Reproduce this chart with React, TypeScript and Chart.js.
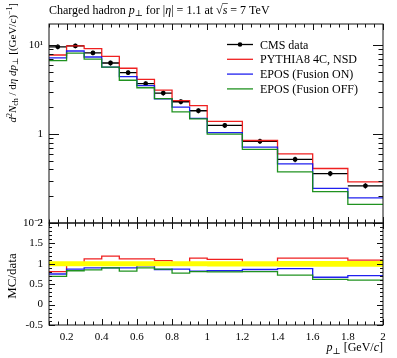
import React, { useEffect, useRef } from "react";
import { Chart, registerables } from "chart.js";
Chart.register(...registerables);

// ---------------- data ----------------
const binEdges = [0.1, 0.2, 0.3, 0.4, 0.5, 0.6, 0.7, 0.8, 0.9, 1.0, 1.2, 1.4, 1.6, 1.8, 2.0];
const cmsData = [9.57, 9.8, 8.18, 6.3, 4.91, 3.69, 2.89, 2.31, 1.83, 1.25, 0.83, 0.519, 0.36, 0.262];
const cmsRelErr = [0.06, 0.06, 0.06, 0.06, 0.06, 0.06, 0.06, 0.06, 0.06, 0.065, 0.065, 0.07, 0.07, 0.07];
const pythia = [7.75, 9.8, 9.16, 7.5, 5.5, 4.13, 3.12, 2.38, 2.09, 1.39, 0.847, 0.6, 0.41, 0.29];
const eposOn = [7.2, 8.6, 7.36, 5.67, 4.42, 3.51, 2.49, 2.01, 1.5, 1.04, 0.714, 0.462, 0.245, 0.192];
const eposOff = [6.7, 8.13, 6.95, 5.67, 4.03, 3.32, 2.51, 1.78, 1.48, 1.0, 0.672, 0.375, 0.225, 0.162];
const pythiaRatio = [0.81, 1.0, 1.12, 1.19, 1.12, 1.12, 1.08, 1.03, 1.14, 1.11, 1.02, 1.14, 1.14, 1.09];
const eposOnRatio = [0.75, 0.87, 0.9, 0.9, 0.9, 0.95, 0.86, 0.87, 0.82, 0.83, 0.86, 0.88, 0.67, 0.71];
const eposOffRatio = [0.69, 0.83, 0.85, 0.9, 0.82, 0.9, 0.87, 0.77, 0.81, 0.8, 0.81, 0.72, 0.62, 0.6];
const xTickValues = [0.2, 0.4, 0.6, 0.8, 1.0, 1.2, 1.4, 1.6, 1.8, 2.0];
const yMainTickValues = [0.1, 1, 10];
const yRatioTickValues = [-0.5, 0, 0.5, 1, 1.5, 2];
const legendLabels = ["CMS data", "PYTHIA8 4C, NSD", "EPOS (Fusion ON)", "EPOS (Fusion OFF)"];

// ---------------- styling ----------------
const FAMILY = "'Liberation Serif', 'DejaVu Serif', serif";
const RED = "rgba(238,20,20,0.95)";
const BLUE = "rgba(20,20,238,0.95)";
const GREEN = "rgba(20,140,20,0.95)";
const BLACK = "#000";

type Seg = [string, string?];

function drawRich(ctx: CanvasRenderingContext2D, segs: Seg[], x: number, y: number, size: number, align: "left" | "center" | "right") {
  const parts = segs.map(([t, s = ""]) => {
    const italic = s.includes("i");
    const small = s.includes("sub") || s.includes("sup");
    const fs = small ? size * 0.72 : size;
    const font = `${italic ? "italic " : ""}${fs}px ${FAMILY}`;
    ctx.font = font;
    const w = ctx.measureText(t).width;
    const dy = s.includes("sub") ? size * 0.22 : s.includes("sup") ? -size * 0.4 : 0;
    return { t, font, w, dy };
  });
  const total = parts.reduce((a, p) => a + p.w, 0);
  let cx = align === "left" ? x : align === "center" ? x - total / 2 : x - total;
  ctx.textAlign = "left";
  ctx.textBaseline = "alphabetic";
  const xs: number[] = [];
  for (const p of parts) {
    ctx.font = p.font;
    xs.push(cx);
    ctx.fillText(p.t, cx, y + p.dy);
    cx += p.w;
  }
  return { xs, parts };
}

function stepPoints(values: number[]) {
  const pts: { x: number; y: number }[] = [];
  values.forEach((v, i) => {
    pts.push({ x: binEdges[i], y: v });
    pts.push({ x: binEdges[i + 1], y: v });
  });
  return pts;
}

function dataBars(values: number[], rel: number[]) {
  const pts: { x: number; y: number | null }[] = [];
  values.forEach((v, i) => {
    const lo = binEdges[i];
    const hi = binEdges[i + 1];
    const c = (lo + hi) / 2;
    pts.push({ x: lo, y: v }, { x: hi, y: v }, { x: hi, y: null });
    pts.push({ x: c, y: v * (1 - rel[i]) }, { x: c, y: v * (1 + rel[i]) }, { x: c, y: null });
  });
  return pts;
}

function dataCenters(values: number[]) {
  return values.map((v, i) => ({ x: (binEdges[i] + binEdges[i + 1]) / 2, y: v }));
}

function xTickList() {
  const out: { v: number; major: boolean }[] = [];
  for (let i = 2; i <= 40; i++) out.push({ v: i * 0.05, major: i % 4 === 0 });
  return out;
}

function framePlugin(yTicks: { v: number; major: boolean }[], yMaj: number, yMin: number, extra?: (c: any) => void) {
  return {
    id: "frameTicks",
    afterDatasetsDraw(chart: any) {
      const { ctx, chartArea: a, scales } = chart;
      const xs = scales.x;
      const ys = scales.y;
      ctx.save();
      ctx.strokeStyle = "#111";
      ctx.lineWidth = 1;
      ctx.strokeRect(a.left, a.top, a.right - a.left, a.bottom - a.top);
      ctx.beginPath();
      for (const t of xTickList()) {
        const px = Math.round(xs.getPixelForValue(t.v)) + 0.5;
        const L = t.major ? 6 : 3.5;
        ctx.moveTo(px, a.top);
        ctx.lineTo(px, a.top + L);
        ctx.moveTo(px, a.bottom);
        ctx.lineTo(px, a.bottom - L);
      }
      for (const t of yTicks) {
        const py = Math.round(ys.getPixelForValue(t.v)) + 0.5;
        const L = t.major ? yMaj : yMin;
        ctx.moveTo(a.left, py);
        ctx.lineTo(a.left + L, py);
        ctx.moveTo(a.right, py);
        ctx.lineTo(a.right - L, py);
      }
      ctx.stroke();
      ctx.restore();
      if (extra) extra(chart);
    },
  };
}

function mainYTicks() {
  const out: { v: number; major: boolean }[] = [];
  for (const dec of [0.1, 1, 10]) {
    for (let m = 1; m <= 9; m++) {
      const v = dec * m;
      if (v <= 17.3) out.push({ v, major: m === 1 });
    }
  }
  return out;
}

function ratioYTicks() {
  const out: { v: number; major: boolean }[] = [];
  for (let i = -5; i <= 20; i++) out.push({ v: i / 10, major: i % 5 === 0 });
  return out;
}

export default function App() {
  const mainRef = useRef<HTMLCanvasElement>(null);
  const ratioRef = useRef<HTMLCanvasElement>(null);

  useEffect(() => {
    const lineDs = (label: string, data: any[], color: string, w = 1.3) => ({
      type: "line" as const,
      label,
      data,
      borderColor: color,
      backgroundColor: color,
      borderWidth: w,
      pointRadius: 0,
      fill: false,
      tension: 0,
      spanGaps: false,
    });

    const legendExtra = (chart: any) => {
      const ctx = chart.ctx as CanvasRenderingContext2D;
      const colors = [BLACK, RED, BLUE, GREEN];
      const rows = [44, 58.8, 73.6, 88.4];
      ctx.save();
      legendLabels.forEach((lab, i) => {
        const y = rows[i];
        ctx.strokeStyle = colors[i];
        ctx.lineWidth = 1.3;
        ctx.beginPath();
        ctx.moveTo(227, y + 0.5);
        ctx.lineTo(253, y + 0.5);
        ctx.stroke();
        if (i === 0) {
          ctx.fillStyle = BLACK;
          ctx.beginPath();
          ctx.arc(240, y + 0.5, 2.3, 0, Math.PI * 2);
          ctx.fill();
        }
        ctx.fillStyle = BLACK;
        drawRich(ctx, [[lab]], 260, y + 4.5, 12, "left");
      });
      // title
      const r = drawRich(
        ctx,
        [["Charged hadron "], ["p", "i"], ["⊥", "sub"], [" for |"], ["η", "i"], ["| = 1.1 at "], ["√"], ["s", "i"], [" = 7 TeV"]],
        49,
        13.5,
        12,
        "left"
      );
      const sx = r.xs[7];
      const sw = r.parts[7].w;
      ctx.strokeStyle = BLACK;
      ctx.lineWidth = 0.6;
      ctx.beginPath();
      ctx.moveTo(sx - 0.5, 3.5);
      ctx.lineTo(sx + sw + 0.5, 3.5);
      ctx.stroke();
      // y label (right-aligned to top)
      ctx.translate(16, 3);
      ctx.rotate(-Math.PI / 2);
      drawRich(
        ctx,
        [["d", "i"], ["2", "sup"], ["N", "i"], ["ch", "sub"], [" / d"], ["η", "i"], [" d", "i"], ["p", "i"], ["⊥", "sub"], [" [(GeV/"], ["c", "i"], [")"], ["−1", "sup"], ["]"]],
        0,
        0,
        11,
        "right"
      );
      ctx.restore();
    };

    const mainChart = new Chart(mainRef.current!, {
      type: "line",
      data: {
        datasets: [
          lineDs("EPOS (Fusion OFF)", stepPoints(eposOff), GREEN),
          lineDs("EPOS (Fusion ON)", stepPoints(eposOn), BLUE),
          lineDs("PYTHIA8 4C, NSD", stepPoints(pythia), RED),
          lineDs("CMS data bars", dataBars(cmsData, cmsRelErr), BLACK, 1.3),
          {
            type: "line" as const,
            label: "CMS data",
            data: dataCenters(cmsData),
            showLine: false,
            pointRadius: 2.4,
            pointBackgroundColor: BLACK,
            pointBorderWidth: 0,
            borderColor: BLACK,
          },
        ],
      },
      options: {
        animation: false,
        responsive: false,
        events: [],
        layout: { padding: { left: 0, top: 24, right: 14, bottom: 135 } },
        plugins: { legend: { display: false }, title: { display: false }, tooltip: { enabled: false } },
        scales: {
          x: { type: "linear", min: 0.1, max: 2, display: false },
          y: {
            type: "logarithmic",
            min: 0.1,
            max: 17.3,
            grid: { display: false, drawTicks: false },
            border: { display: false },
            afterBuildTicks: (s: any) => {
              s.ticks = yMainTickValues.map((v) => ({ value: v }));
            },
            afterFit: (s: any) => {
              s.width = 49;
            },
            ticks: {
              padding: 6,
              color: BLACK,
              font: { family: FAMILY, size: 11 },
              callback: (v: any) => (v === 10 ? "10¹" : v === 1 ? "1" : v === 0.1 ? "10⁻¹" : ""),
            },
          },
        },
      },
      plugins: [framePlugin(mainYTicks(), 10, 4.5, legendExtra)],
    } as any);

    const ratioExtra = (chart: any) => {
      const ctx = chart.ctx as CanvasRenderingContext2D;
      ctx.save();
      ctx.fillStyle = BLACK;
      drawRich(ctx, [["p", "i"], ["⊥", "sub"], [" [GeV/"], ["c", "i"], ["]"]], 383, 351, 12, "right");
      ctx.translate(16, 276);
      ctx.rotate(-Math.PI / 2);
      drawRich(ctx, [["MC/data"]], 0, 0, 13, "center");
      ctx.restore();
    };

    const ones = cmsData.map(() => 1);
    const bandHi = cmsRelErr.map((e) => 1 + e);
    const bandLo = cmsRelErr.map((e) => 1 - e);

    const ratioChart = new Chart(ratioRef.current!, {
      type: "line",
      data: {
        datasets: [
          {
            type: "line" as const,
            label: "band hi",
            data: stepPoints(bandHi),
            borderWidth: 0,
            borderColor: "rgba(0,0,0,0)",
            backgroundColor: "rgb(255,255,0)",
            pointRadius: 0,
            fill: "+1",
          },
          {
            type: "line" as const,
            label: "band lo",
            data: stepPoints(bandLo),
            borderWidth: 0,
            borderColor: "rgba(0,0,0,0)",
            pointRadius: 0,
            fill: false,
          },
          lineDs("EPOS (Fusion OFF)", stepPoints(eposOffRatio), GREEN),
          lineDs("EPOS (Fusion ON)", stepPoints(eposOnRatio), BLUE),
          lineDs("PYTHIA8 4C, NSD", stepPoints(pythiaRatio), RED),
          lineDs("CMS data", stepPoints(ones), BLACK, 1),
        ],
      },
      options: {
        animation: false,
        responsive: false,
        events: [],
        layout: { padding: { left: 0, top: 223, right: 14, bottom: 0 } },
        plugins: { legend: { display: false }, title: { display: false }, tooltip: { enabled: false }, filler: { propagate: false } },
        scales: {
          x: {
            type: "linear",
            min: 0.1,
            max: 2,
            grid: { display: false, drawTicks: false },
            border: { display: false },
            afterBuildTicks: (s: any) => {
              s.ticks = xTickValues.map((v) => ({ value: v }));
            },
            afterFit: (s: any) => {
              s.height = 33;
            },
            ticks: {
              padding: 6,
              color: BLACK,
              maxRotation: 0,
              autoSkip: false,
              font: { family: FAMILY, size: 11 },
              callback: (v: any) => String(Number(Number(v).toFixed(1))),
            },
          },
          y: {
            type: "linear",
            min: -0.5,
            max: 2,
            grid: { display: false, drawTicks: false },
            border: { display: false },
            afterBuildTicks: (s: any) => {
              s.ticks = yRatioTickValues.map((v) => ({ value: v }));
            },
            afterFit: (s: any) => {
              s.width = 49;
            },
            ticks: {
              padding: 6,
              color: BLACK,
              font: { family: FAMILY, size: 11 },
              callback: (v: any) => String(v),
            },
          },
        },
      },
      plugins: [framePlugin(ratioYTicks(), 6, 3, ratioExtra)],
    } as any);

    return () => {
      mainChart.destroy();
      ratioChart.destroy();
    };
  }, []);

  return (
    <div style={{ position: "fixed", left: 0, top: 0, width: 397, height: 358, background: "#fff" }}>
      <canvas ref={mainRef} width={397} height={358} style={{ position: "absolute", left: 0, top: 0 }} />
      <canvas ref={ratioRef} width={397} height={358} style={{ position: "absolute", left: 0, top: 0 }} />
    </div>
  );
}
